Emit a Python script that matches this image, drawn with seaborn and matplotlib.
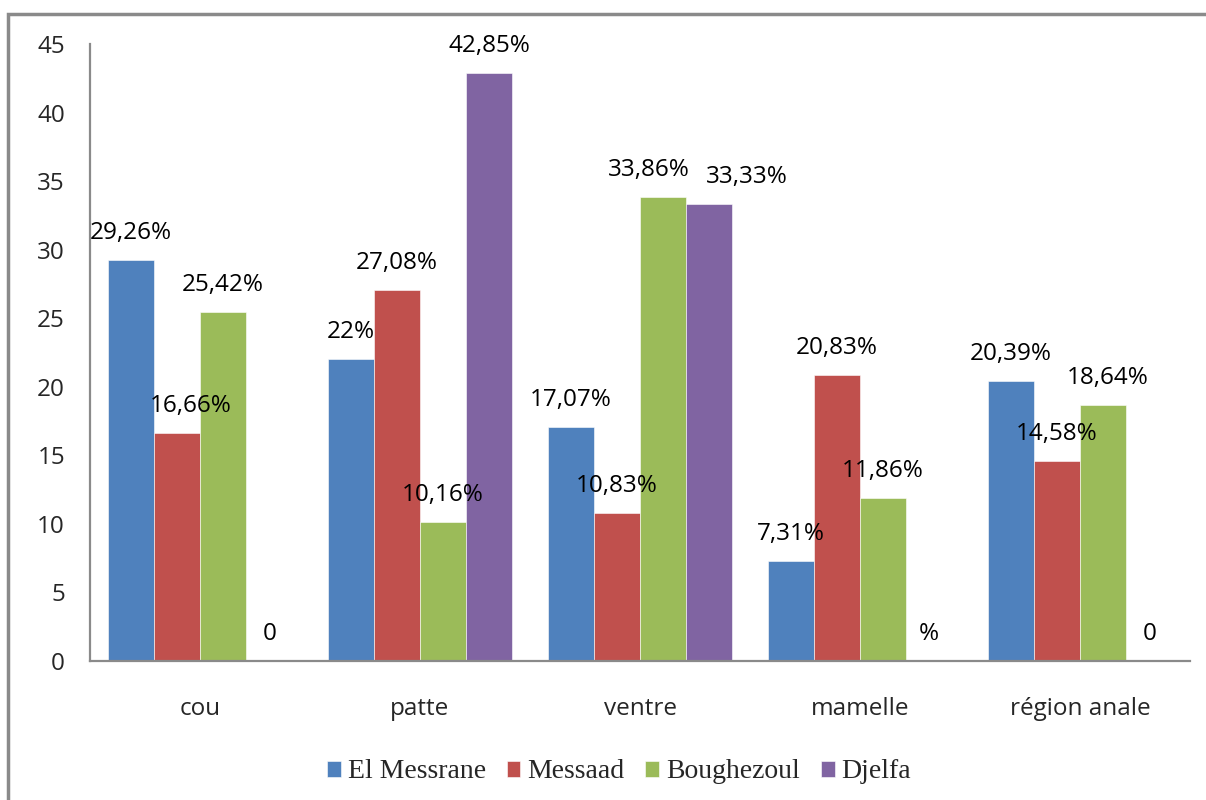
import matplotlib
matplotlib.use("Agg")
import matplotlib.pyplot as plt
import seaborn as sns
import pandas as pd
from matplotlib.patches import Rectangle

categories = ["cou", "patte", "ventre", "mamelle", "région anale"]
series = ["El Messrane", "Messaad", "Boughezoul", "Djelfa"]
el_messrane = [29.26, 22, 17.07, 7.31, 20.39]
messaad = [16.66, 27.08, 10.83, 20.83, 14.58]
boughezoul = [25.42, 10.16, 33.86, 11.86, 18.64]
djelfa = [0, 42.85, 33.33, 0, 0]
labels_el = ["29,26%", "22%", "17,07%", "7,31%", "20,39%"]
labels_me = ["16,66%", "27,08%", "10,83%", "20,83%", "14,58%"]
labels_bo = ["25,42%", "10,16%", "33,86%", "11,86%", "18,64%"]
labels_dj = ["0", "42,85%", "33,33%", "%", "0"]
yticks = [0, 5, 10, 15, 20, 25, 30, 35, 40, 45]

colors = ["#4F81BD", "#C0504D", "#9BBB59", "#8064A2"]

values = [el_messrane, messaad, boughezoul, djelfa]
label_sets = [labels_el, labels_me, labels_bo, labels_dj]
rows = []
for s, vals in zip(series, values):
    for c, v in zip(categories, vals):
        rows.append({"cat": c, "series": s, "val": v})
df = pd.DataFrame(rows)

sns.set_style("white")
plt.rcParams["font.family"] = ["Open Sans", "DejaVu Sans"]

fig = plt.figure(figsize=(12.06, 8), dpi=100)
ax = fig.add_axes([90/1206, 1-661/800, 1100/1206, 617/800])

sns.barplot(data=df, x="cat", y="val", hue="series", order=categories,
            hue_order=series, palette=colors, width=0.84, ax=ax,
            edgecolor="white", linewidth=0.4, legend=True, errorbar=None,
            saturation=1)

ax.set_ylim(0, 45)
ax.set_xlim(-0.5, len(categories) - 0.5)
ax.set_yticks(yticks)
ax.set_yticklabels([str(t) for t in yticks])
ax.set_xlabel("")
ax.set_ylabel("")
ax.tick_params(axis="y", length=0, pad=18, labelsize=17.5)
ax.tick_params(axis="x", length=0, pad=26, labelsize=17.5)
for side in ["top", "right"]:
    ax.spines[side].set_visible(False)
for side in ["left", "bottom"]:
    ax.spines[side].set_color("#8a8a8a")
    ax.spines[side].set_linewidth(1.6)

# label x offsets in pixels (styling only)
xoff = [[0, 0, 0, 0, 0],
        [14, 0, 0, 0, 0],
        [0, 0, -14, 0, 5],
        [0, 0, 38, 0, 0]]
for si, cont in enumerate(ax.containers):
    for ci, bar in enumerate(cont):
        x = bar.get_x() + bar.get_width() / 2
        h = bar.get_height()
        ax.annotate(label_sets[si][ci], (x, h), xytext=(xoff[si][ci], 27),
                    textcoords="offset pixels", ha="center", va="center",
                    fontsize=17.5, color="black", annotation_clip=False)

leg = ax.legend(loc="center", bbox_to_anchor=(619/1206, 1-772/800),
                bbox_transform=fig.transFigure, ncol=4, frameon=False,
                prop={"family": "Liberation Serif", "size": 20},
                handlelength=0.5, handleheight=0.5, handletextpad=0.25,
                columnspacing=0.75)

fig.add_artist(Rectangle((8/1206, -0.2), 1.2, 1.2 - 14/800,
                         transform=fig.transFigure, fill=False,
                         edgecolor="#8a8a8a", linewidth=2.5, clip_on=False))

fig.savefig("out.png", dpi=100)
